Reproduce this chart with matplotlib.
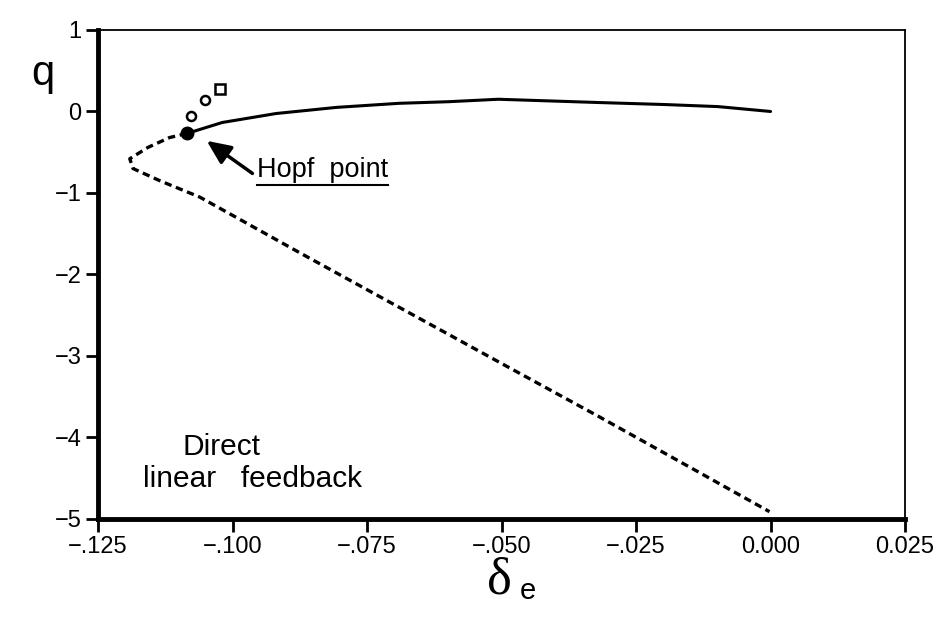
import matplotlib
matplotlib.use("Agg")
import matplotlib.pyplot as plt
from matplotlib.lines import Line2D

plt.rcParams['font.family'] = ['Liberation Sans', 'DejaVu Sans']

# stable branch (solid), from Hopf point to origin
stable_de = [-0.1085, -0.1019, -0.0919, -0.0807, -0.0691, -0.0598, -0.0506,
             -0.0413, -0.0320, -0.0196, -0.0098, 0.0000]
stable_q = [-0.27, -0.135, -0.025, 0.05, 0.10, 0.12, 0.15, 0.13, 0.11, 0.085, 0.06, 0.0]

# unstable branch (dashed), from Hopf point around the nose down to -5
unstable_de = [-0.1085, -0.1117, -0.1157, -0.1191, -0.1185, -0.1135, -0.1061,
               -0.0876, -0.0691, -0.0506, -0.0320, -0.0135, -0.0002]
unstable_q = [-0.27, -0.32, -0.44, -0.58, -0.70, -0.85, -1.05,
              -1.73, -2.40, -3.07, -3.74, -4.42, -4.91]

# periodic orbit amplitudes near the Hopf point
circle_de = [-0.1077, -0.1052]
circle_q = [-0.05, 0.135]
square_de = [-0.1024]
square_q = [0.27]

hopf_de, hopf_q = -0.1085, -0.27

xticks = [-0.125, -0.100, -0.075, -0.050, -0.025, 0.000, 0.025]
xticklabels = ['\u2212.125', '\u2212.100', '\u2212.075', '\u2212.050', '\u2212.025', '0.000', '0.025']
yticks = [1, 0, -1, -2, -3, -4, -5]
yticklabels = ['1', '0', '\u22121', '\u22122', '\u22123', '\u22124', '\u22125']

fig = plt.figure(figsize=(9.48, 6.18), dpi=100)
ax = fig.add_axes([0.1034, 0.1602, 0.8513, 0.7913])

ax.plot(stable_de, stable_q, color='black', lw=2.2, solid_capstyle='round')
ax.plot(unstable_de, unstable_q, color='black', lw=2.4, dashes=(2.2, 1.4))
ax.plot(circle_de, circle_q, 'o', ms=6.5, mfc='white', mec='black', mew=1.8)
ax.plot(square_de, square_q, 's', ms=7, mfc='white', mec='black', mew=1.8)
ax.plot([hopf_de], [hopf_q], 'o', ms=9, color='black')

ax.set_xlim(-0.125, 0.025)
ax.set_ylim(-5, 1)
ax.set_xticks(xticks)
ax.set_xticklabels(xticklabels, fontsize=17)
ax.set_yticks(yticks)
ax.set_yticklabels(yticklabels, fontsize=17)
ax.tick_params(axis='both', direction='out', length=9, width=2, pad=3)

for side in ['left', 'bottom']:
    ax.spines[side].set_linewidth(3.5)
for side in ['top', 'right']:
    ax.spines[side].set_linewidth(1.3)

fig.text(0.045, 0.88, 'q', fontsize=30, ha='center', va='center')
fig.text(0.527, 0.04, '\u03b4', fontsize=38, family=['Liberation Serif', 'DejaVu Serif'],
         ha='center', va='baseline')
fig.text(0.548, 0.03, 'e', fontsize=21, ha='left', va='baseline')

# Hopf point label with arrow
ax.annotate('', xy=(-0.1048, -0.36), xytext=(-0.0963, -0.76),
            arrowprops=dict(arrowstyle='-|>,head_length=1.45,head_width=0.65',
                            color='black', lw=2.5, shrinkA=0, shrinkB=0,
                            facecolor='#555555'))
hopf_txt = ax.text(-0.0954, -0.80, 'Hopf  point', fontsize=19.5, ha='left', va='baseline')

ax.text(-0.102, -4.22, 'Direct', fontsize=21.5, ha='center', va='baseline')
ax.text(-0.0963, -4.61, 'linear   feedback', fontsize=21.5, ha='center', va='baseline')

# underline the Hopf point label
fig.canvas.draw()
bb = hopf_txt.get_window_extent().transformed(fig.transFigure.inverted())
uy = bb.y0 - 0.003
fig.add_artist(Line2D([bb.x0, bb.x1], [uy, uy], color='black', lw=1.5,
                      transform=fig.transFigure))

fig.savefig('out.png', dpi=100)
